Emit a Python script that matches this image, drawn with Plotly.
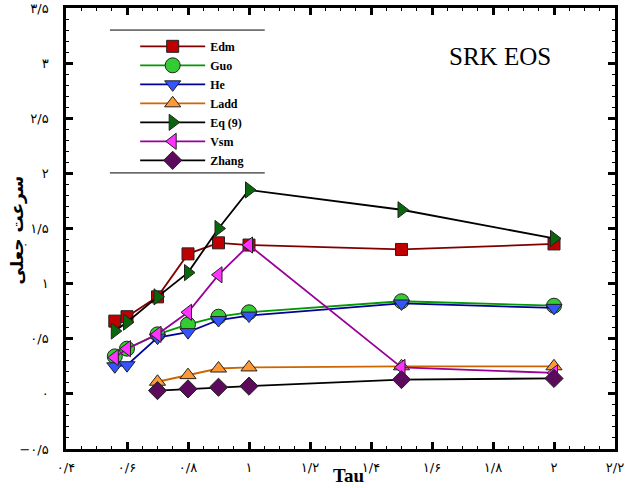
import plotly.graph_objects as go

# Tau values at which each correlation was evaluated
tau_full = [0.56, 0.6, 0.7, 0.8, 0.9, 1.0, 1.5, 2.0]
tau_short = [0.7, 0.8, 0.9, 1.0, 1.5, 2.0]

# Pseudo-velocity for each correlation
edm = [0.66, 0.70, 0.88, 1.27, 1.37, 1.35, 1.31, 1.36]
guo = [0.34, 0.41, 0.54, 0.63, 0.70, 0.74, 0.84, 0.80]
he = [0.25, 0.26, 0.51, 0.56, 0.67, 0.71, 0.82, 0.78]
ladd = [0.11, 0.17, 0.23, 0.24, 0.25, 0.25]
eq9 = [0.57, 0.65, 0.88, 1.10, 1.50, 1.85, 1.67, 1.41]
vsm = [0.33, 0.41, 0.54, 0.74, 1.08, 1.35, 0.24, 0.19]
zhang = [0.03, 0.045, 0.06, 0.07, 0.13, 0.14]

# Axis ticks with Persian numerals
x_tickvals = [0.4, 0.6, 0.8, 1.0, 1.2, 1.4, 1.6, 1.8, 2.0, 2.2]
x_ticktext = ["۰/۴", "۰/۶", "۰/۸", "۱", "۱/۲", "۱/۴", "۱/۶", "۱/۸", "۲", "۲/۲"]
y_tickvals = [-0.5, 0, 0.5, 1.0, 1.5, 2.0, 2.5, 3.0, 3.5]
y_ticktext = ["−۰/۵", "۰", "۰/۵", "۱", "۱/۵", "۲", "۲/۵", "۳", "۳/۵"]

series = [
    ("Edm", tau_full, edm, "#800000", "#c00000", "square", 12),
    ("Guo", tau_full, guo, "#009900", "#33cc33", "circle", 15),
    ("He", tau_full, he, "#000099", "#3355ff", "triangle-down", 14),
    ("Ladd", tau_short, ladd, "#cc6600", "#ff9933", "triangle-up", 14),
    ("Eq (9)", tau_full, eq9, "#000000", "#0a660a", "triangle-right", 14),
    ("Vsm", tau_full, vsm, "#990099", "#ff33ff", "triangle-left", 14),
    ("Zhang", tau_short, zhang, "#000000", "#5c0a5c", "diamond", 14),
]

fig = go.Figure()
for name, xs, ys, lc, mc, sym, sz in series:
    fig.add_trace(go.Scatter(
        x=xs, y=ys, name=name, mode="lines+markers",
        line=dict(color=lc, width=1.8),
        marker=dict(symbol=sym, size=sz, color=mc,
                    line=dict(color="#222222", width=1)),
    ))

axis_common = dict(
    showline=True, linecolor="black", linewidth=2.5, mirror="allticks",
    ticks="inside", ticklen=7, tickwidth=2.5, tickcolor="black",
    showgrid=False, zeroline=False, automargin=False,
    ticklabeloverflow="allow",
    tickfont=dict(family="DejaVu Sans", size=13, color="black"),
)

fig.update_xaxes(
    range=[0.4, 2.2], tickvals=x_tickvals, ticktext=x_ticktext,
    minor=dict(ticks="inside", dtick=0.05, ticklen=3, tickwidth=1, tickcolor="black"),
    ticklabelstandoff=5,
    **axis_common,
)
fig.update_yaxes(
    range=[-0.5, 3.5], tickvals=y_tickvals, ticktext=y_ticktext,
    minor=dict(ticks="inside", dtick=0.1, ticklen=3, tickwidth=1, tickcolor="black"),
    ticklabelstandoff=12,
    **axis_common,
)

# Rules above and below the legend block
for yy in (0.950, 0.626):
    fig.add_shape(type="line", xref="paper", yref="paper",
                  x0=0.08, x1=0.362, y0=yy, y1=yy,
                  line=dict(color="black", width=1))

fig.add_annotation(text="SRK EOS", xref="paper", yref="paper",
                   x=0.79, y=0.89, xanchor="center", yanchor="middle",
                   showarrow=False,
                   font=dict(family="Liberation Serif", size=25, color="black"))
fig.add_annotation(text="<b>Tau</b>", xref="paper", yref="paper",
                   x=0.515, y=-0.088, xanchor="center", yanchor="bottom",
                   showarrow=False,
                   font=dict(family="Liberation Serif", size=19, color="black"))
fig.add_annotation(text="<b>سرعت جعلی</b>", xref="paper", yref="paper",
                   x=-0.088, y=0.497, textangle=-90,
                   xanchor="center", yanchor="middle",
                   showarrow=False,
                   font=dict(family="DejaVu Sans", size=17, color="black"))

fig.update_layout(
    width=625, height=488,
    margin=dict(l=66, r=10, t=8, b=39),
    paper_bgcolor="white", plot_bgcolor="white",
    showlegend=True,
    legend=dict(x=0.126, y=0.946, xanchor="left", yanchor="top",
                bgcolor="rgba(0,0,0,0)", borderwidth=0,
                tracegroupgap=0, itemwidth=65,
                font=dict(family="Liberation Serif", size=12, color="black",
                          weight="bold")),
)

fig.write_html("out.html")
